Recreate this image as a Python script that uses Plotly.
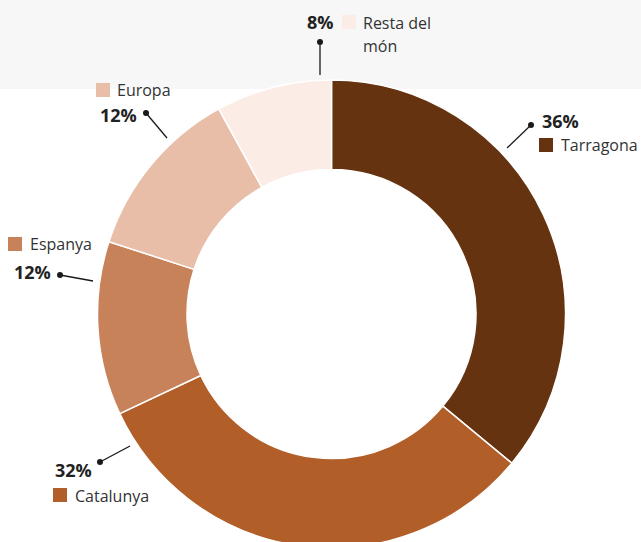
import plotly.graph_objects as go

# ---- data ----
categories = ["Tarragona", "Catalunya", "Espanya", "Europa", "Resta del món"]
values = [36, 32, 12, 12, 8]
pct_labels = ["36%", "32%", "12%", "12%", "8%"]
colors = ["#663311", "#B25E29", "#C8825A", "#E8BEA8", "#FBECE6"]

W, H = 641, 552   # bottom of the donut is cropped by the 542px window, as in the reference
FONT = "Open Sans"

fig = go.Figure()

# donut geometry (pixels)
cx, cy, r = 331.5, 314, 234
fig.add_trace(go.Pie(
    labels=categories, values=values, sort=False, direction="clockwise",
    rotation=0, hole=0.6175, textinfo="none", hoverinfo="label+percent",
    marker=dict(colors=colors, line=dict(color="white", width=1.5)),
    domain=dict(x=[(cx - r) / W, (cx + r) / W], y=[(H - cy - r) / H, (H - cy + r) / H]),
    showlegend=False,
))

# label layout: (pct pos, dot, line end, square pos, name lines)
label_layout = {
    "Tarragona":     dict(pct=(540, 121), dot=(531, 125), end=(507, 148), sq=(539, 138), names=[("Tarragona", 559, 145)]),
    "Catalunya":     dict(pct=(53, 470),  dot=(100, 462), end=(130, 446), sq=(53, 488),  names=[("Catalunya", 73, 496)]),
    "Espanya":       dict(pct=(12, 272),  dot=(60, 275),  end=(93, 281),  sq=(8, 237),   names=[("Espanya", 28, 244)]),
    "Europa":        dict(pct=(98, 115),  dot=(146, 113), end=(167, 138), sq=(96, 83),   names=[("Europa", 115, 90)]),
    "Resta del món": dict(pct=(305, 22),  dot=(320, 42),  end=(320, 75),  sq=(342, 15),  names=[("Resta del", 361, 23), ("món", 361, 46)]),
}

annotations = []
shapes = [dict(type="rect", xref="paper", yref="paper", x0=0, x1=1, y0=1 - 89 / H, y1=1,
               fillcolor="#F7F7F7", line=dict(width=0), layer="below")]

for cat, pct, col in zip(categories, pct_labels, colors):
    L = label_layout[cat]
    fig.add_trace(go.Scatter(x=[L["dot"][0], L["end"][0]], y=[L["dot"][1], L["end"][1]],
                             mode="lines", line=dict(color="#1a1a1a", width=1.3),
                             hoverinfo="skip", showlegend=False))
    fig.add_trace(go.Scatter(x=[L["dot"][0]], y=[L["dot"][1]], mode="markers",
                             marker=dict(color="#1a1a1a", size=6), hoverinfo="skip", showlegend=False))
    annotations.append(dict(x=L["pct"][0], y=L["pct"][1], xref="x", yref="y", text="<b>%s</b>" % pct,
                            showarrow=False, xanchor="left", yanchor="middle",
                            font=dict(family=FONT, size=18, color="#222222")))
    for txt, tx, ty in L["names"]:
        annotations.append(dict(x=tx, y=ty, xref="x", yref="y", text=txt, showarrow=False,
                                xanchor="left", yanchor="middle", align="left",
                                font=dict(family=FONT, size=16, color="#333333")))
    shapes.append(dict(type="rect", xref="x", yref="y", x0=L["sq"][0], x1=L["sq"][0] + 14,
                       y0=L["sq"][1], y1=L["sq"][1] + 14, fillcolor=col, line=dict(width=0)))

fig.update_layout(
    width=W, height=H, margin=dict(l=0, r=0, t=0, b=0),
    paper_bgcolor="white", plot_bgcolor="rgba(0,0,0,0)",
    xaxis=dict(range=[0, W], visible=False, fixedrange=True),
    yaxis=dict(range=[H, 0], visible=False, fixedrange=True),
    annotations=annotations, shapes=shapes,
)

fig.write_html("out.html", config={"displayModeBar": False},
               post_script="document.body.style.margin='0';")
